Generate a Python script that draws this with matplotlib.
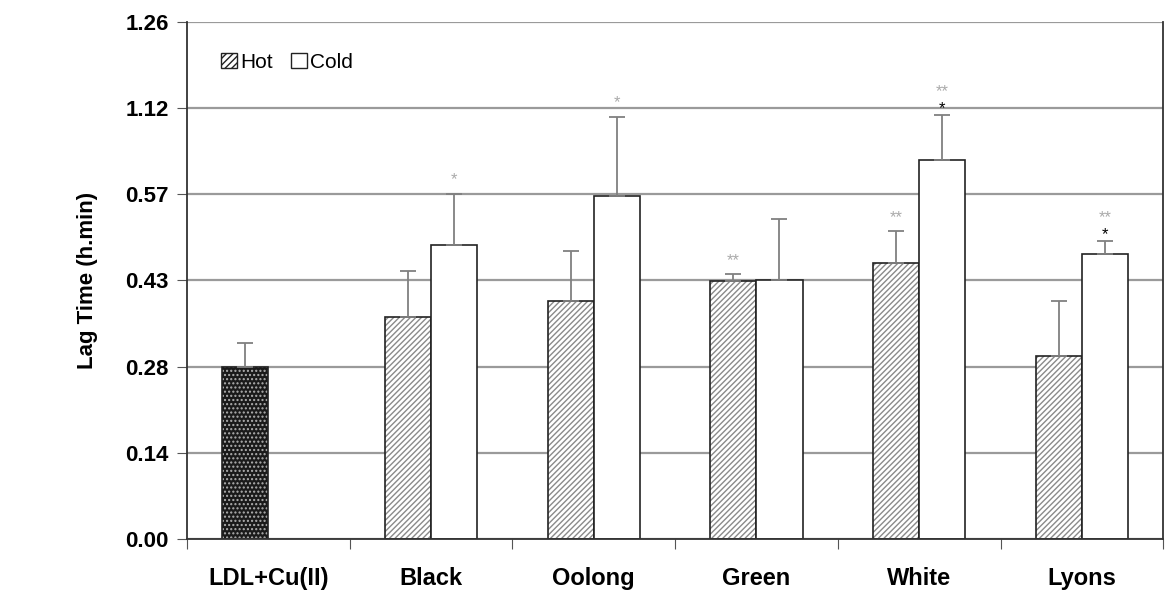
import matplotlib as mpl
import numpy as np
mpl.use('Agg')
import matplotlib.pyplot as plt
from matplotlib.patches import Patch

plt.rcParams['font.family'] = ['Liberation Sans', 'DejaVu Sans']
plt.rcParams['hatch.linewidth'] = 1.0

# axis is linear in time; labels shown as hours.minutes
tick_pos = [0, 0.24, 0.48, 0.72, 0.96, 1.20, 1.44]
tick_labels = ['0.00', '0.14', '0.28', '0.43', '0.57', '1.12', '1.26']

categories = ['LDL+Cu(II)', 'Black', 'Oolong', 'Green', 'White', 'Lyons']
# lag time in hours (decimal)
control = 0.48
control_err = 0.067
hot = [np.nan, 0.618, 0.662, 0.718, 0.770, 0.511]
hot_err = [np.nan, 0.128, 0.139, 0.019, 0.087, 0.151]
cold = [np.nan, 0.818, 0.955, 0.720, 1.056, 0.794]
cold_err = [np.nan, 0.144, 0.221, 0.170, 0.125, 0.036]
# significance marks (gray, black) above error bars
hot_sig = ['', '', '', '**', '**', '']
cold_sig_gray = ['', '*', '*', '', '**', '**']
cold_sig_black = ['', '', '', '', '*', '*']

fig = plt.figure(figsize=(11.65, 6.04), dpi=100)
ax = fig.add_axes([0.1605, 0.1076, 0.838, 0.856])

x = np.arange(len(categories))
w = 0.283

ax.set_axisbelow(True)
ax.grid(axis='y', color='#9a9a9a', linewidth=1.6)

ebar = dict(fmt='none', ecolor='#808080', elinewidth=1.3, capsize=5.5, capthick=1.3)

# control bar
ax.bar(x[0] - w / 2, control, w, color='#1a1a1a', hatch='....', edgecolor='#b0b0b0', linewidth=0)
ax.bar(x[0] - w / 2, control, w, fill=False, edgecolor='#222222', linewidth=1.2)
ax.errorbar(x[0] - w / 2, control, yerr=[[0], [control_err]], **ebar)

# hot bars
ax.bar(x[1:] - w / 2, hot[1:], w, color='white', hatch='//////', edgecolor='#8a8a8a', linewidth=0)
ax.bar(x[1:] - w / 2, hot[1:], w, fill=False, edgecolor='#222222', linewidth=1.2)
ax.errorbar(x[1:] - w / 2, hot[1:], yerr=[np.zeros(5), hot_err[1:]], **ebar)

# cold bars
ax.bar(x[1:] + w / 2, cold[1:], w, color='white', edgecolor='#222222', linewidth=1.2)
ax.errorbar(x[1:] + w / 2, cold[1:], yerr=[np.zeros(5), cold_err[1:]], **ebar)

fs = 12
for i in range(len(categories)):
    if hot_sig[i]:
        ax.text(x[i] - w / 2, hot[i] + hot_err[i] + 0.018, hot_sig[i], ha='center', va='bottom', color='#aaaaaa', fontsize=fs)
    top = cold[i] + cold_err[i] if not np.isnan(cold[i]) else 0
    if cold_sig_black[i]:
        ax.text(x[i] + w / 2, top - 0.004, cold_sig_black[i], ha='center', va='bottom', color='black', fontsize=fs)
        ax.text(x[i] + w / 2, top + 0.044, cold_sig_gray[i], ha='center', va='bottom', color='#aaaaaa', fontsize=fs)
    elif cold_sig_gray[i]:
        ax.text(x[i] + w / 2, top + 0.018, cold_sig_gray[i], ha='center', va='bottom', color='#aaaaaa', fontsize=fs)

ax.set_xlim(-0.5, 5.5)
ax.set_ylim(0, 1.44)
ax.set_yticks(tick_pos)
ax.set_yticklabels(tick_labels, fontsize=16, fontweight='bold')
ax.set_xticks(np.arange(-0.5, 6, 1))
ax.set_xticklabels([])
ax.set_xticks(x, minor=True)
ax.set_xticklabels(categories, minor=True, fontsize=17, fontweight='bold')
ax.tick_params(axis='x', which='minor', length=0, pad=20)
ax.tick_params(axis='x', which='major', length=7, direction='out', color='#555555')
ax.tick_params(axis='y', length=7, direction='out', color='#555555', pad=6)
ax.set_ylabel('Lag Time (h.min)', fontsize=16, fontweight='bold', labelpad=20)
ax.spines['top'].set_visible(False)
for s in ['left', 'bottom', 'right']:
    ax.spines[s].set_color('#333333')
    ax.spines[s].set_linewidth(1.3)

# legend
handles = [Patch(facecolor='white', edgecolor='#222222', hatch='/////', label='Hot'),
           Patch(facecolor='white', edgecolor='#222222', label='Cold')]
ax.legend(handles=handles, loc='upper left', bbox_to_anchor=(0.016, 0.977), ncol=2, frameon=False,
          handlelength=0.75, handleheight=0.75, handletextpad=0.15, columnspacing=0.9, fontsize=15)

plt.savefig('out.png', dpi=100)
plt.close()
